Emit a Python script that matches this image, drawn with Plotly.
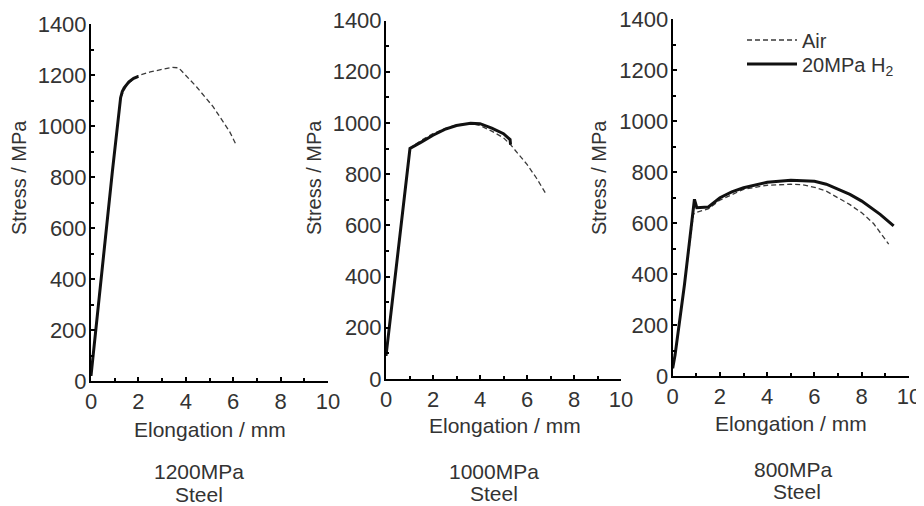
import plotly.graph_objects as go

# ---------------- data ----------------
# 1200MPa steel
p1_air_x = [0, 0.6, 1.25, 1.5, 1.8, 2.0, 2.5, 3.0, 3.4, 3.7, 4.0, 4.45, 5.15, 5.85, 6.13]
p1_air_y = [20, 560, 1111, 1160, 1185, 1198, 1212, 1222, 1230, 1228, 1200, 1154, 1076, 978, 925]
p1_h2_x = [0, 0.3, 0.63, 0.9, 1.25, 1.32, 1.4, 1.5, 1.6, 1.8, 2.0]
p1_h2_y = [20, 290, 580, 820, 1111, 1135, 1150, 1163, 1173, 1187, 1195]

# 1000MPa steel
p2_air_x = [0, 0.05, 0.5, 1.02, 1.5, 2.0, 2.5, 3.0, 3.6, 4.0, 4.5, 5.0, 5.3, 5.6, 6.0, 6.4, 6.84]
p2_air_y = [90, 130, 480, 902, 932, 958, 978, 992, 998, 990, 968, 942, 915, 880, 838, 785, 718]
p2_h2_x = [0, 0.05, 0.5, 1.02, 1.5, 2.0, 2.5, 3.0, 3.6, 4.0, 4.5, 5.0, 5.28, 5.3]
p2_h2_y = [90, 130, 480, 900, 925, 952, 975, 990, 999, 997, 980, 958, 935, 915]

# 800MPa steel
p3_air_x = [0, 0.1, 0.5, 0.88, 1.0, 1.5, 2.0, 3.0, 4.0, 5.0, 5.5, 6.0, 6.5, 7.0, 7.5, 8.0, 8.5, 9.14]
p3_air_y = [30, 82, 360, 635, 642, 655, 690, 732, 748, 752, 750, 740, 725, 700, 672, 640, 598, 517]
p3_h2_x = [0, 0.1, 0.5, 0.85, 0.92, 1.02, 1.51, 2.0, 2.5, 3.0, 4.0, 5.0, 6.0, 6.5, 7.0, 7.5, 8.0, 8.78, 9.35]
p3_h2_y = [30, 82, 360, 621, 693, 660, 663, 699, 722, 738, 760, 768, 764, 752, 732, 712, 686, 634, 589]

x_ticks = [0, 2, 4, 6, 8, 10]
y_ticks = [0, 200, 400, 600, 800, 1000, 1200, 1400]
x_title = "Elongation / mm"
y_title = "Stress / MPa"
grades = ["1200MPa", "1000MPa", "800MPa"]
material = "Steel"
legend_names = ["Air", "20MPa H<sub>2</sub>"]

# ---------------- figure ----------------
OFF = 8                      # page body margin of the html page
W, H = 924 - OFF, 506 - OFF  # figure size so that it fills the window
FONT = "Liberation Sans, Arial, sans-serif"
TXT = "#333333"


def px(x):
    return (x - OFF) / W


def py(y):
    return 1 - (y - OFF) / H


fig = go.Figure()

panels = [
    (p1_air_x, p1_air_y, p1_h2_x, p1_h2_y),
    (p2_air_x, p2_air_y, p2_h2_x, p2_h2_y),
    (p3_air_x, p3_air_y, p3_h2_x, p3_h2_y),
]

for i, (ax_, ay_, hx_, hy_) in enumerate(panels):
    xa = "x" if i == 0 else f"x{i+1}"
    ya = "y" if i == 0 else f"y{i+1}"
    show = (i == 2)
    fig.add_trace(go.Scatter(x=ax_, y=ay_, mode="lines", name=legend_names[0],
                             line=dict(color="#3a3a3a", width=1.3, dash="5px,3px"),
                             xaxis=xa, yaxis=ya, showlegend=show, legend="legend"))
    fig.add_trace(go.Scatter(x=hx_, y=hy_, mode="lines", name=legend_names[1],
                             line=dict(color="#111111", width=3),
                             xaxis=xa, yaxis=ya, showlegend=show, legend="legend2"))

# panel geometry in window pixels (left, right, bottom, top)
geo = [(91, 328, 381, 24), (386, 621, 379, 20.5), (672.7, 909, 376, 19)]

axis_common = dict(
    showline=True, linecolor="black", linewidth=2, mirror=False,
    showgrid=False, zeroline=False, automargin=False,
    ticks="inside", ticklen=4, tickwidth=1.5, tickcolor="black",
    ticklabeloverflow="allow",
    tickfont=dict(family=FONT, size=22, color=TXT),
)

layout = {}
for i, (l, r, b, t) in enumerate(geo):
    xk = "xaxis" if i == 0 else f"xaxis{i+1}"
    yk = "yaxis" if i == 0 else f"yaxis{i+1}"
    ya_ref = "y" if i == 0 else f"y{i+1}"
    xa_ref = "x" if i == 0 else f"x{i+1}"
    layout[xk] = dict(axis_common, domain=[px(l), px(r)], range=[0, 10],
                      tickvals=x_ticks, anchor=ya_ref,
                      minor=dict(dtick=1, ticks="inside", ticklen=3, tickwidth=1.5, tickcolor="black"))
    layout[yk] = dict(axis_common, domain=[py(b), py(t)], range=[0, 1400],
                      tickvals=y_ticks, anchor=xa_ref, ticklabelstandoff=-2,
                      minor=dict(dtick=100, ticks="inside", ticklen=3, tickwidth=1.5, tickcolor="black"))

fig.update_layout(**layout)

annotations = []
ytitle_x = [19, 314, 599]
xtitle_pos = [(210, 429), (505, 425), (791, 423)]
grade_pos = [(199, 471), (494, 471), (793, 469)]
steel_pos = [(199, 494), (494, 493), (797, 491)]
for i in range(3):
    annotations.append(dict(text=y_title, x=px(ytitle_x[i]), y=py(178), xref="paper", yref="paper",
                            textangle=-90, showarrow=False, xanchor="center", yanchor="middle",
                            font=dict(family=FONT, size=20, color=TXT)))
    annotations.append(dict(text=x_title, x=px(xtitle_pos[i][0]), y=py(xtitle_pos[i][1]),
                            xref="paper", yref="paper", showarrow=False,
                            xanchor="center", yanchor="middle",
                            font=dict(family=FONT, size=21, color=TXT)))
    annotations.append(dict(text=grades[i], x=px(grade_pos[i][0]), y=py(grade_pos[i][1]),
                            xref="paper", yref="paper", showarrow=False,
                            xanchor="center", yanchor="middle",
                            font=dict(family=FONT, size=21, color=TXT)))
    annotations.append(dict(text=material, x=px(steel_pos[i][0]), y=py(steel_pos[i][1]),
                            xref="paper", yref="paper", showarrow=False,
                            xanchor="center", yanchor="middle",
                            font=dict(family=FONT, size=21, color=TXT)))

legend_style = dict(xanchor="left", yanchor="middle", bgcolor="rgba(0,0,0,0)", borderwidth=0,
                    itemwidth=50, font=dict(family=FONT, size=20, color=TXT))

fig.update_layout(
    width=W, height=H,
    margin=dict(l=0, r=0, t=0, b=0, autoexpand=False),
    paper_bgcolor="white", plot_bgcolor="white",
    annotations=annotations,
    legend=dict(legend_style, x=px(742), y=py(40)),
    legend2=dict(legend_style, x=px(742), y=py(64)),
)

fig.write_html("out.html")
